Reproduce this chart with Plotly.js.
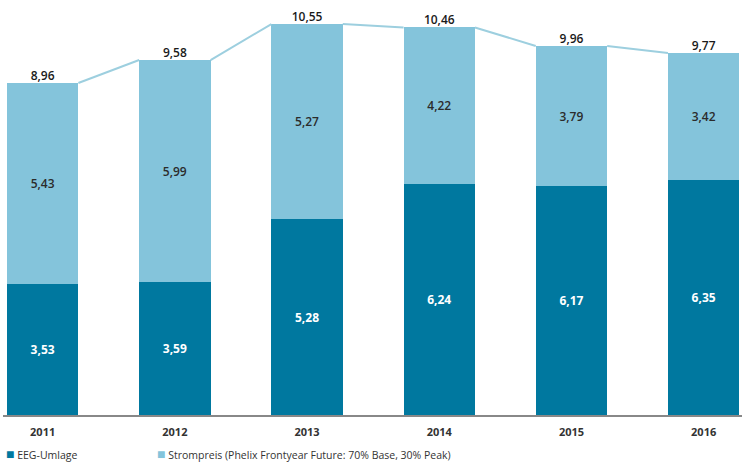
<!DOCTYPE html>
<html>
<head>
<meta charset="utf-8">
<script src="https://cdn.plot.ly/plotly-3.0.1.min.js"></script>
<style>
  html, body { margin: 0; padding: 0; background: #fff; }
  #chart { width: 745px; height: 473px; }
</style>
</head>
<body>
<div id="chart"></div>
<script>
var years = ['2011', '2012', '2013', '2014', '2015', '2016']
var eegUmlage = [3.53, 3.59, 5.28, 6.24, 6.17, 6.35]
var strompreis = [5.43, 5.99, 5.27, 4.22, 3.79, 3.42]
var totals = [8.96, 9.58, 10.55, 10.46, 9.96, 9.77]
var seriesNames = ['EEG-Umlage', 'Strompreis (Phelix Frontyear Future: 70% Base, 30% Peak)']

var darkBlue = '#00789f'
var lightBlue = '#84c4db'
var barWidth = 0.54

function fmt(v) {
    return v.toFixed(2).replace('.', ',')
}

var xs = years.map((y, i) => i)

var trace_eeg = {
    x: xs,
    y: eegUmlage,
    type: 'bar',
    name: seriesNames[0],
    width: barWidth,
    marker: { color: darkBlue },
    text: eegUmlage.map(fmt),
    textposition: 'inside',
    insidetextanchor: 'middle',
    textfont: { color: '#ffffff', size: 12, family: 'Open Sans', weight: 'bold' },
    hoverinfo: 'skip'
}

var trace_strom = {
    x: xs,
    y: strompreis,
    type: 'bar',
    name: seriesNames[1],
    width: barWidth,
    marker: { color: lightBlue },
    text: strompreis.map(fmt),
    textposition: 'inside',
    insidetextanchor: 'middle',
    textfont: { color: '#2b2b2b', size: 12, family: 'Open Sans', weight: 600 },
    hoverinfo: 'skip'
}

// connecting line from the right edge of one bar top to the left edge of the next
var lx = []
var ly = []
for (let i = 0; i < totals.length - 1; i++) {
    lx.push(i + barWidth / 2, i + 1 - barWidth / 2, null)
    ly.push(totals[i], totals[i + 1], null)
}
var trace_line = {
    x: lx,
    y: ly,
    mode: 'lines',
    type: 'scatter',
    line: { color: '#9dcfdf', width: 2 },
    showlegend: false,
    hoverinfo: 'skip'
}

var trace_totals = {
    x: xs,
    y: totals,
    mode: 'text',
    type: 'scatter',
    text: totals.map(fmt),
    textposition: 'top center',
    textfont: { color: '#1a1a1a', size: 12, family: 'Open Sans', weight: 600 },
    showlegend: false,
    hoverinfo: 'skip'
}

// legend drawn as text rows under the axis
var legendAnnotations = [
    { x: 1, text: '<span style="color:' + darkBlue + ';font-size:14px">■</span> ' + seriesNames[0] },
    { x: 153, text: '<span style="color:' + lightBlue + ';font-size:14px">■</span> ' + seriesNames[1] }
].map(a => ({
    xref: 'paper', yref: 'paper',
    x: a.x / 745, y: -0.094,
    xanchor: 'left', yanchor: 'middle',
    text: a.text,
    showarrow: false,
    font: { size: 10.5, color: '#333333', family: 'Open Sans' }
}))

var layout = {
    width: 745,
    height: 473,
    barmode: 'stack',
    margin: { l: 3, r: 3, t: 10, b: 58 },
    font: { family: 'Open Sans', color: '#333333' },
    xaxis: {
        range: [-0.3, 5.29],
        tickvals: xs,
        ticktext: years.map(y => '<b>' + y + '</b>'),
        tickfont: { size: 11, color: '#333333' },
        ticklabelstandoff: 6,
        automargin: false,
        showgrid: false,
        zeroline: false,
        showline: true,
        linecolor: '#888888',
        linewidth: 1.5,
        ticks: ''
    },
    yaxis: {
        range: [0, 10.93],
        visible: false,
        showgrid: false,
        zeroline: false
    },
    showlegend: false,
    annotations: legendAnnotations,
    paper_bgcolor: '#ffffff',
    plot_bgcolor: '#ffffff'
}

Plotly.newPlot('chart', [trace_eeg, trace_strom, trace_line, trace_totals], layout, { staticPlot: true })
</script>
</body>
</html>
